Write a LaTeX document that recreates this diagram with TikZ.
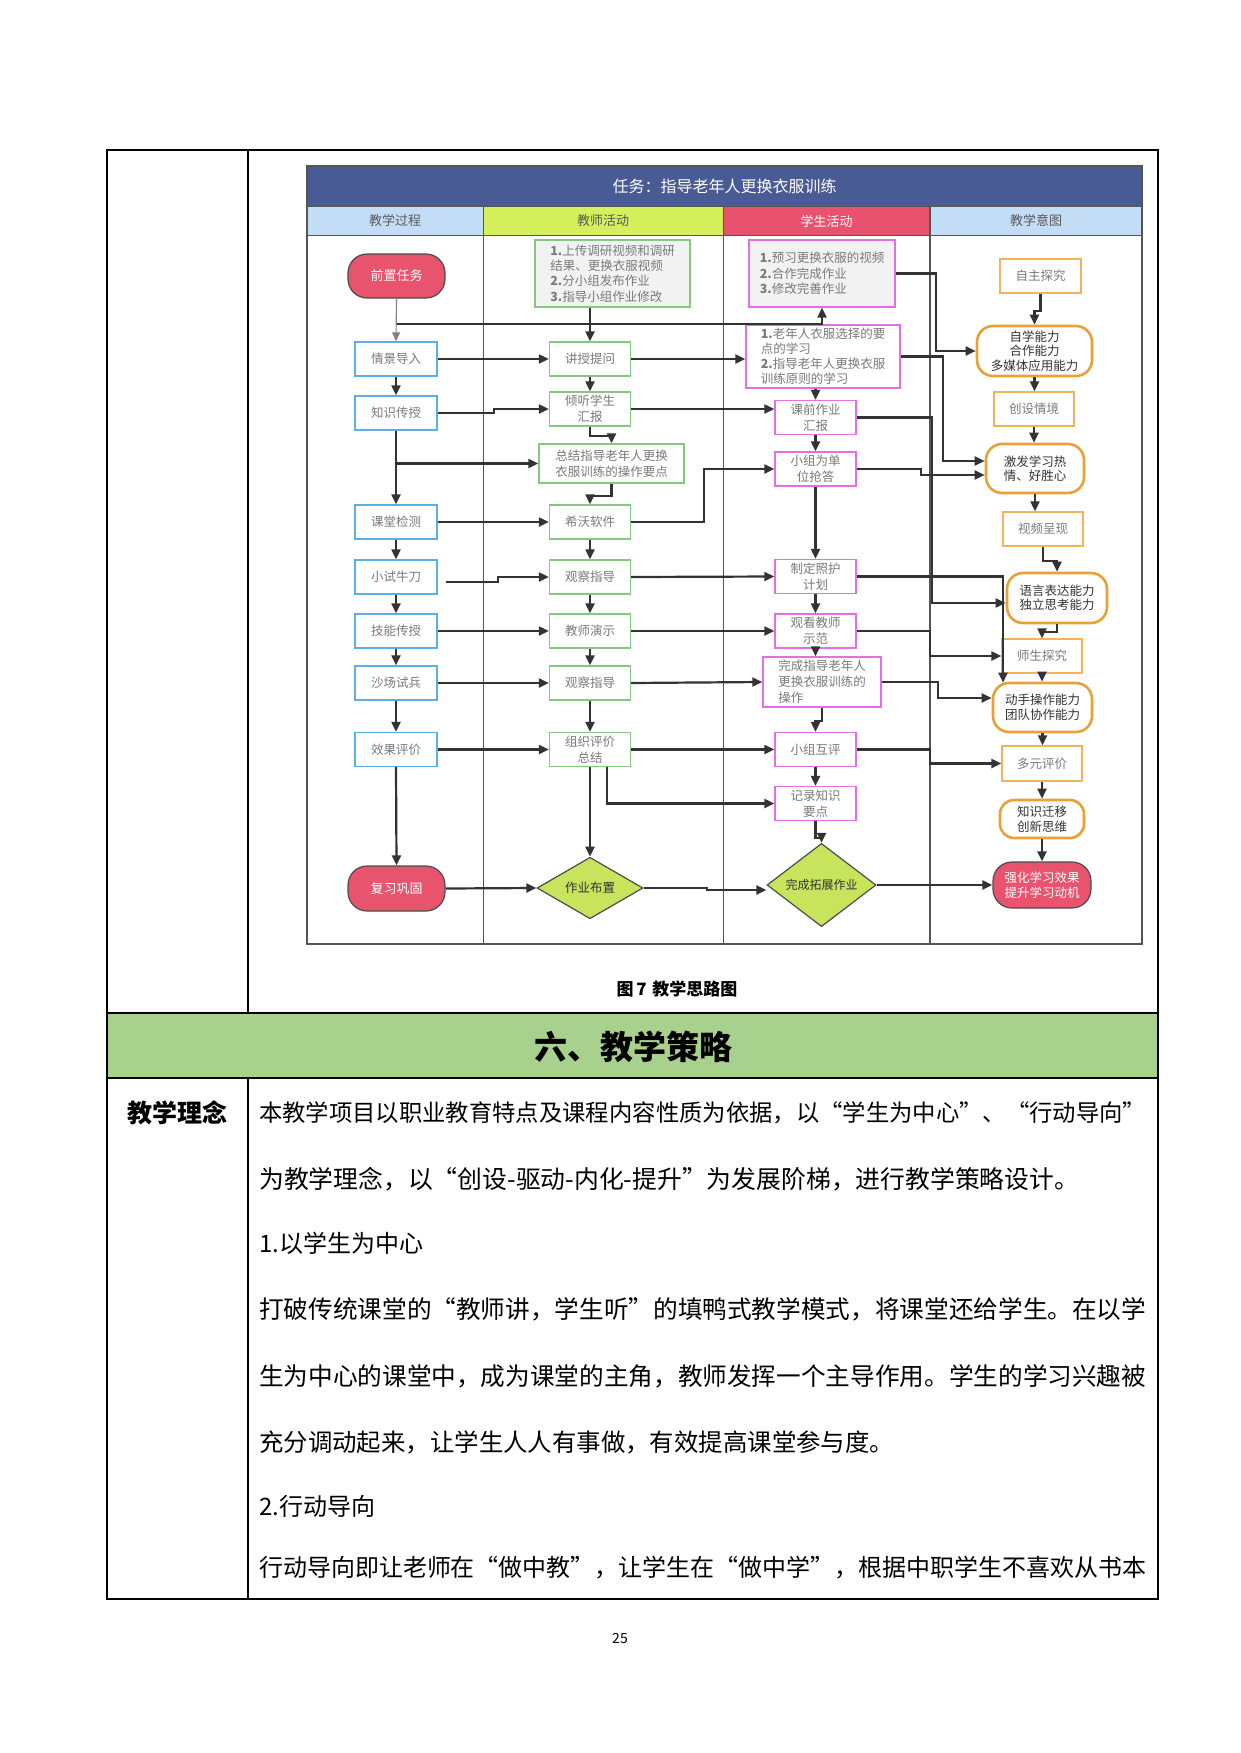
\documentclass[tikz,border=0pt]{standalone}
\usepackage{fontspec}
\setmainfont{Noto Sans CJK SC}
\usepackage{graphicx}
\usetikzlibrary{arrows.meta,shapes.geometric}
\definecolor{lk}{HTML}{333333}
\definecolor{cblue}{HTML}{5BAEE6}
\definecolor{cgreen}{HTML}{85C783}
\definecolor{cmag}{HTML}{E36FE3}
\definecolor{corg}{HTML}{F2B35A}
\definecolor{corgd}{HTML}{E9A036}
\definecolor{cred}{HTML}{E8536E}
\definecolor{cdia}{HTML}{C8E35C}
\definecolor{ctitle}{HTML}{485B95}
\definecolor{chblue}{HTML}{C4DDF7}
\definecolor{chgreen}{HTML}{D6EF5C}
\definecolor{chred}{HTML}{E9526F}
\definecolor{cboxfill}{HTML}{F2F2F2}
\definecolor{ctxt}{HTML}{7A7A7A}
\definecolor{csec}{HTML}{A9D18E}
\definecolor{cframe}{HTML}{555555}
\newcommand\bn[1]{\textbf{#1}}
\tikzset{
  base/.style={inner sep=1pt, align=center, font=\fontsize{12.5}{16}\selectfont, text=ctxt},
  bb/.style={base, draw=cblue, line width=1.4pt, minimum width=82pt, minimum height=34pt, fill=white},
  gb/.style={base, draw=cgreen, line width=1.4pt, minimum width=81pt, minimum height=34pt, fill=white},
  mb/.style={base, draw=cmag, line width=1.4pt, minimum width=81pt, minimum height=34pt, fill=white},
  ob/.style={base, draw=corg, line width=1.4pt, minimum width=80pt, minimum height=34pt, fill=white},
  os/.style={base, draw=corgd, line width=2.6pt, rounded corners=16pt, text=black!80, font=\fontsize{12.5}{14.5}\selectfont, fill=white},
  rs/.style={base, draw=black!70, line width=1.2pt, fill=cred, text=white, rounded corners=19pt, font=\fontsize{13}{16}\selectfont},
  dia/.style={base, diamond, draw=black!70, line width=1.2pt, fill=cdia, text=black!80, inner sep=0pt},
  conn/.style={draw=lk, line width=2.2pt, -{Triangle[length=10pt,width=9pt]}},
  thinconn/.style={draw=gray, line width=1.1pt, -{Triangle[length=9pt,width=8pt]}},
  tbl/.style={draw=black, line width=1.3pt},
  fr/.style={draw=cframe, line width=0.9pt},
  hd/.style={font=\fontsize{13}{13}\selectfont, text=black!65},
  bodytxt/.style={anchor=west, inner sep=0pt, font=\fontsize{24}{24}\selectfont, text=black}
}
\begin{document}
\begin{tikzpicture}[x=1pt,y=-1pt]
\useasboundingbox (0,0) rectangle (1240,1753);
\fill[white] (0,0) rectangle (1240,1753);

% ---------- outer table ----------
\fill[csec] (107,1013) rectangle (1158,1078);
\draw[tbl] (107,150) rectangle (1158,1599);
\draw[tbl] (107,1013) -- (1158,1013);
\draw[tbl] (107,1078) -- (1158,1078);
\draw[tbl] (248,150) -- (248,1013);
\draw[tbl] (248,1078) -- (248,1599);

% ---------- chart frame ----------
\fill[ctitle] (307,166) rectangle (1142,206);
\fill[chblue] (307,206) rectangle (483,235);
\fill[chgreen] (483,206) rectangle (723,235);
\fill[chred] (723,206) rectangle (930,235);
\fill[chblue] (930,206) rectangle (1142,235);
\draw[fr] (307,206) -- (1142,206);
\draw[fr] (307,235) -- (1142,235);
\draw[fr] (483,206) -- (483,944);
\draw[fr] (723,206) -- (723,944);
\draw[fr, line width=1.3pt] (930,206) -- (930,944);
\draw[fr, line width=1.5pt] (307,166) rectangle (1142,944);

\node[font=\fontsize{16}{16}\selectfont, text=white] (title) at (724.5,186) {任务：指导老年人更换衣服训练};
\node[hd] (h1) at (395,221) {教学过程};
\node[hd] (h2) at (603,221) {教师活动};
\node[hd, text=white] (h3) at (826.5,221) {学生活动};
\node[hd] (h4) at (1036,221) {教学意图};

% ---------- column 1 ----------
\node[rs, minimum width=97pt, minimum height=44pt] (pre) at (396.5,276) {前置任务};
\node[bb] (p1) at (396,359) {情景导入};
\node[bb] (p2) at (396,413) {知识传授};
\node[bb] (p3) at (396,522) {课堂检测};
\node[bb] (p4) at (396,577) {小试牛刀};
\node[bb] (p5) at (396,631) {技能传授};
\node[bb] (p6) at (396,683) {沙场试兵};
\node[bb] (p7) at (396,749.5) {效果评价};
\node[rs, minimum width=97pt, minimum height=45pt] (rev) at (396.5,888.5) {复习巩固};

% ---------- column 2 ----------
\node[gb, fill=cboxfill, minimum width=155pt, minimum height=67pt, align=left, font=\fontsize{12.5}{15.3}\selectfont] (t0) at (612.5,273.5) {\bn{1.}上传调研视频和调研\\结果、更换衣服视频\\\bn{2.}分小组发布作业\\\bn{3.}指导小组作业修改};
\node[gb] (t1) at (590,359) {讲授提问};
\node[gb] (t2) at (590,409) {倾听学生\\汇报};
\node[gb, minimum width=145pt, minimum height=39pt, font=\fontsize{12.5}{15.7}\selectfont] (t3) at (611.5,463.5) {总结指导老年人更换\\衣服训练的操作要点};
\node[gb] (t4) at (590,522) {希沃软件};
\node[gb] (t5) at (590,577) {观察指导};
\node[gb] (t6) at (590,631) {教师演示};
\node[gb] (t7) at (590,683) {观察指导};
\node[gb] (t8) at (590,749.5) {组织评价\\总结};
\node[dia, minimum width=106pt, minimum height=59pt] (hw) at (590,888) {作业布置};

% ---------- column 3 ----------
\node[mb, fill=cboxfill, minimum width=146pt, minimum height=67pt, align=left, font=\fontsize{12.5}{15.3}\selectfont] (s0) at (822,273.5) {\bn{1.}预习更换衣服的视频\\\bn{2.}合作完成作业\\\bn{3.}修改完善作业};
\node[mb, minimum width=154pt, minimum height=63pt, align=left, font=\fontsize{12.5}{15}\selectfont] (s1) at (823,356.5) {\bn{1.}老年人衣服选择的要\\点的学习\\\bn{2.}指导老年人更换衣服\\训练原则的学习};
\node[mb] (s2) at (815.5,417.5) {课前作业\\汇报};
\node[mb] (s3) at (815.5,469) {小组为单\\位抢答};
\node[mb] (s4) at (815.5,576.5) {制定照护\\计划};
\node[mb] (s5) at (815.5,631) {观看教师\\示范};
\node[mb, minimum width=118pt, minimum height=50pt, align=left] (s6) at (822,682) {完成指导老年人\\更换衣服训练的\\操作};
\node[mb] (s7) at (815.5,749.5) {小组互评};
\node[mb] (s8) at (815.5,803.5) {记录知识\\要点};
\node[dia, minimum width=109pt, minimum height=58pt, font=\fontsize{12}{14}\selectfont] (ext) at (821.5,885) {完成拓展作业};

% ---------- column 4 ----------
\node[ob, minimum width=81pt] (i1) at (1040.5,276) {自主探究};
\node[os, minimum width=115pt, minimum height=50pt] (i2) at (1034.5,351) {自学能力\\合作能力\\多媒体应用能力};
\node[ob] (i3) at (1034,409) {创设情境};
\node[os, minimum width=98pt, minimum height=49pt] (i4) at (1035,468.5) {激发学习热\\情、好胜心};
\node[ob] (i5) at (1043,529) {视频呈现};
\node[os, minimum width=100pt, minimum height=50pt] (i6) at (1057,598) {语言表达能力\\独立思考能力};
\node[ob] (i7) at (1042,656) {师生探究};
\node[os, minimum width=99pt, minimum height=49pt] (i8) at (1042.5,707.5) {动手操作能力\\团队协作能力};
\node[ob, minimum height=35pt] (i9) at (1042,763.5) {多元评价};
\node[os, minimum width=84pt, minimum height=38pt, rounded corners=14pt] (i10) at (1042,819) {知识迁移\\创新思维};
\node[rs, minimum width=98pt, minimum height=46pt, font=\fontsize{12.5}{15}\selectfont] (i11) at (1042,885) {强化学习效果\\提升学习动机};

% ---------- connectors ----------
\coordinate (j1) at (396.5,324);
\draw[thinconn] (pre.south) -- (p1.north);
\draw[conn] (j1) -| (s0.south);
\draw[conn] (t1.north |- t0.south) -- (t1.north);
\draw[conn] (p1.south) -- (p2.north);
\draw[conn] (p1.east) -- (t1.west);
\draw[conn] (t1.east) -- (s1.west |- t1.east);
\draw[conn] (t1.south) -- (t2.north);
\draw[conn] (p2.east) -- ++(56,0) |- (t2.west);
\draw[conn] (t2.south) -- ++(0,9) -| (t3.north);
\draw[conn] (p2.south) -- (p3.north);
\draw[conn] (p2.south |- t3.west) -- (t3.west);
\draw[conn] (t3.south) -- ++(0,12) -| (t4.north);
\draw[conn] (p3.east) -- (t4.west);
\draw[conn] (t4.east) -- ++(73,0) |- (s3.west);
\draw[conn] (t4.south) -- (t5.north);
\draw[conn] (p3.south) -- (p4.north);
\draw[conn] ([xshift=8pt,yshift=-5pt]p4.east) -- ++(52,0) |- (t5.west);
\draw[conn] (p4.south) -- (p5.north);
\draw[conn] (t5.south) -- (t6.north);
\draw[conn] (p5.east) -- (t6.west);
\draw[conn] (p5.south) -- (p6.north);
\draw[conn] (t6.south) -- (t7.north);
\draw[conn] (p6.east) -- (t7.west);
\draw[conn] (p6.south) -- (p7.north);
\draw[conn] (t7.south) -- (t8.north);
\draw[conn] (p7.east) -- (t8.west);
\draw[conn] (p7.south) -- (rev.north);
\draw[conn] (t8.south) -- (hw.north);
\draw[conn] ([xshift=17pt]t8.south) |- (s8.west);
\draw[conn] (t8.east) -- (s7.west);
\draw[conn] (t5.east) -- (s4.west);
\draw[conn] (t6.east) -- (s5.west);
\draw[conn] (t7.east) -- (s6.west);
\draw[conn] (rev.east) -- (hw.west);
\draw[conn] (hw.east) -- ++(63,0) |- ([yshift=-5pt]ext.west);
\draw[conn] (s2.north |- s1.south) -- (s2.north);
\draw[conn] (t2.east) -- (s2.west |- t2.east);
\draw[conn] (s2.south) -- (s3.north);
\draw[conn] (s3.south) -- (s4.north);
\draw[conn] (s4.south) -- (s5.north);
\draw[conn] (s5.south) -- (s5.south |- s6.north);
\draw[conn] (s6.south) -- ++(0,13) -| (s7.north);
\draw[conn] (s7.south) -- (s8.north);
\draw[conn] (s8.south) -- ++(0,17) -| (ext.north);
\draw[conn] (ext.east) -- (i11.west);
\draw[conn] (s0.east) -- ++(40,0) |- (i2.west);
\draw[conn] (s1.east) -- ++(42,0) |- ([yshift=7.5pt]i4.west);
\draw[conn] (s3.east) -- ++(64,0) |- ([yshift=-6.5pt]i4.west);
\draw[conn] (s2.east) -- ++(75,0) |- ([yshift=-5pt]i6.west);
\draw[conn] (s4.east) -| ([xshift=-39.5pt,yshift=-1pt]i8.north);
\draw[conn] (s5.east) -- ++(73,0) |- (i7.west);
\draw[conn] (s6.east) -- ++(56,0) |- ([yshift=9.5pt]i8.west);
\draw[conn] (s7.east) -- ++(73,0) |- (i9.west);
\draw[conn] (i1.south) -- ++(0,17) -| (i2.north);
\draw[conn] (i2.south) -- (i2.south |- i3.north);
\draw[conn] (i3.south) -- (i3.south |- i4.north);
\draw[conn] (i4.south) -- (i4.south |- i5.north);
\draw[conn] (i5.south) -- ++(0,14) -| (i6.north);
\draw[conn] (i6.south) -- ++(0,8) -| (i7.north);
\draw[conn] (i7.south) -- (i7.south |- i8.north);
\draw[conn] (i8.south) -- (i8.south |- i9.north);
\draw[conn] (i9.south) -- (i9.south |- i10.north);
\draw[conn] (i10.south) -- (i10.south |- i11.north);

% ---------- caption & section ----------
\node[font=\bfseries\fontsize{17}{17}\selectfont] (cap) at (677,989) {图\,7\,\,教学思路图};
\node[font=\bfseries\fontsize{33}{33}\selectfont] (sec) at (633,1047) {六、教学策略};
\node[font=\bfseries\fontsize{25}{25}\selectfont] (lab) at (177,1113) {教学理念};

% ---------- body text ----------
\node[bodytxt] (l1) at (259,1113) {\resizebox{887pt}{!}{本教学项目以职业教育特点及课程内容性质为依据，以“学生为中心”、“行动导向”}};
\node[bodytxt] (l2) at (259,1179) {\resizebox{820pt}{!}{为教学理念，以“创设-驱动-内化-提升”为发展阶梯，进行教学策略设计。}};
\node[bodytxt] (l3) at (259,1243) {1.以学生为中心};
\node[bodytxt] (l4) at (259,1309) {\resizebox{887pt}{!}{打破传统课堂的“教师讲，学生听”的填鸭式教学模式，将课堂还给学生。在以学}};
\node[bodytxt] (l5) at (259,1376) {\resizebox{887pt}{!}{生为中心的课堂中，成为课堂的主角，教师发挥一个主导作用。学生的学习兴趣被}};
\node[bodytxt] (l6) at (259,1442) {\resizebox{635pt}{!}{充分调动起来，让学生人人有事做，有效提高课堂参与度。}};
\node[bodytxt] (l7) at (259,1506) {2.行动导向};
\node[bodytxt] (l8) at (259,1568) {\resizebox{887pt}{!}{行动导向即让老师在“做中教”，让学生在“做中学”，根据中职学生不喜欢从书本}};

\node[font=\fontsize{14}{14}\selectfont] (pg) at (620,1638) {25};
\end{tikzpicture}
\end{document}
